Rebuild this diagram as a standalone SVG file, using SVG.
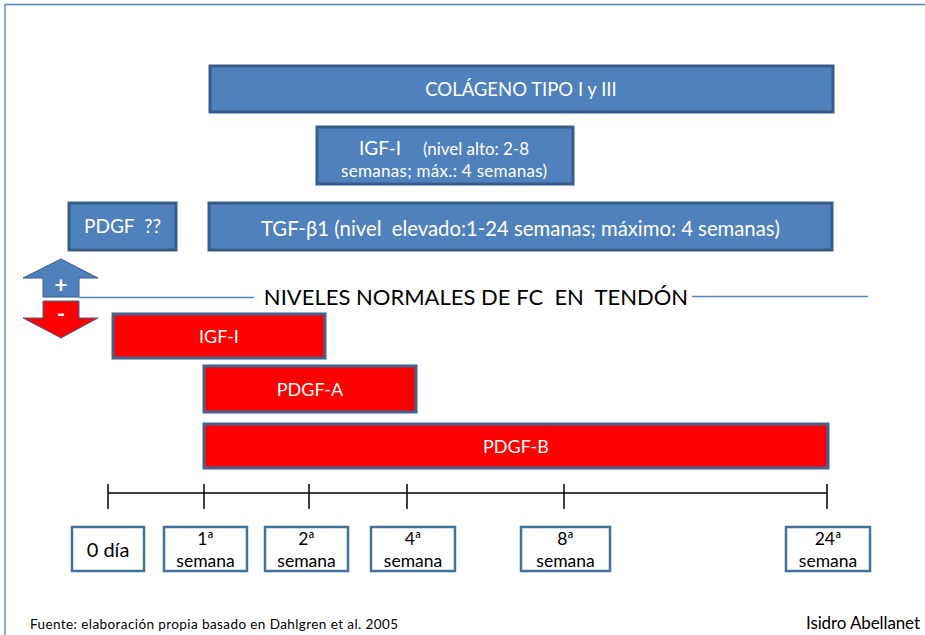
<svg xmlns="http://www.w3.org/2000/svg" width="925" height="635" viewBox="0 0 925 635">
  <defs>
    <style>
      text { font-family: Lato, "Liberation Sans", "Noto Sans", sans-serif; }
      .blue { fill: #4F81BD; stroke: #385D8A; stroke-width: 3; }
      .red { fill: #FF0000; stroke: #41638F; stroke-width: 3; }
      .lbl { fill: #FFFFFF; stroke: #41719C; stroke-width: 2.5; }
      .wt { fill: #FFFFFF; text-anchor: middle; }
      .bk { fill: #000000; text-anchor: middle; }
      .axis { stroke: #000000; stroke-width: 1.5; fill: none; }
      .norm { stroke: #4F81BD; stroke-width: 1.3; fill: none; }
      .wk { font-size: 17.5px; }
    </style>
  </defs>

  <rect width="925" height="635" fill="#FFFFFF"/>
  <!-- frame -->
  <path d="M5,635 V4.5 H925" fill="none" stroke="#4F81BD" stroke-width="1.3"/>

  <!-- increased factors -->
  <g id="colageno">
    <rect class="blue" x="210" y="66" width="623" height="46"/>
    <text class="wt" x="521" y="96" font-size="18.5">COLÁGENO TIPO I y III</text>
  </g>
  <g id="igf-alto">
    <rect class="blue" x="317" y="127" width="256" height="57"/>
    <text x="359" y="155" font-size="19" fill="#FFFFFF">IGF-I</text>
    <text x="423" y="155" font-size="17" fill="#FFFFFF" textLength="106">(nivel alto: 2-8</text>
    <text x="341" y="177" font-size="17" fill="#FFFFFF" textLength="206">semanas; máx.: 4 semanas)</text>
  </g>
  <g id="pdgf-dudoso">
    <rect class="blue" x="69" y="203" width="107" height="47"/>
    <text class="wt" x="122.5" y="233" font-size="19" xml:space="preserve">PDGF  ??</text>
  </g>
  <g id="tgf-b1">
    <rect class="blue" x="209" y="203" width="623" height="47"/>
    <text class="wt" x="520.5" y="236" font-size="20.3" xml:space="preserve">TGF-β1 (nivel  elevado:1-24 semanas; máximo: 4 semanas)</text>
  </g>

  <!-- up / down arrows -->
  <g id="flecha-mas">
    <path d="M61,259 L98,278 L79,278 L79,297 L43,297 L43,278 L23,278 Z" fill="#4F81BD" stroke="#385D8A" stroke-width="1"/>
    <text class="wt" x="61" y="292.5" font-size="22" font-weight="bold">+</text>
  </g>
  <g id="flecha-menos">
    <path d="M43,301 L79,301 L79,318 L98,318 L61,338 L23,318 L43,318 Z" fill="#FF0000" stroke="#41638F" stroke-width="1"/>
    <text class="wt" x="61" y="322" font-size="22" font-weight="bold">-</text>
  </g>

  <!-- normal level -->
  <g id="nivel-normal">
    <text class="bk" x="476" y="305" font-size="22" xml:space="preserve">NIVELES NORMALES DE FC  EN  TENDÓN</text>
  </g>

  <!-- decreased factors -->
  <g id="igf-bajo">
    <rect class="red" x="113" y="314" width="212" height="44"/>
    <text class="wt" x="219" y="343" font-size="18">IGF-I</text>
  </g>
  <g id="pdgf-a">
    <rect class="red" x="204" y="366" width="212" height="46"/>
    <text class="wt" x="310" y="396" font-size="18">PDGF-A</text>
  </g>
  <g id="pdgf-b">
    <rect class="red" x="204" y="424" width="624" height="44"/>
    <text class="wt" x="516" y="453" font-size="18">PDGF-B</text>
  </g>

  <!-- time labels -->
  <g id="t0">
    <rect class="lbl" x="72" y="527" width="72" height="44"/>
    <text class="bk" x="108" y="557" font-size="20">0 día</text>
  </g>
  <g id="t1">
    <rect class="lbl" x="164" y="527" width="83" height="44"/>
    <text class="bk wk" x="205.5" y="545">1ª</text>
    <text class="bk wk" x="205.5" y="567">semana</text>
  </g>
  <g id="t2">
    <rect class="lbl" x="265" y="527" width="83" height="44"/>
    <text class="bk wk" x="306.5" y="545">2ª</text>
    <text class="bk wk" x="306.5" y="567">semana</text>
  </g>
  <g id="t4">
    <rect class="lbl" x="371" y="527" width="84" height="44"/>
    <text class="bk wk" x="413" y="545">4ª</text>
    <text class="bk wk" x="413" y="567">semana</text>
  </g>
  <g id="t8">
    <rect class="lbl" x="521" y="527" width="89" height="44"/>
    <text class="bk wk" x="565.5" y="545">8ª</text>
    <text class="bk wk" x="565.5" y="567">semana</text>
  </g>
  <g id="t24">
    <rect class="lbl" x="786" y="527" width="84" height="44"/>
    <text class="bk wk" x="828" y="545">24ª</text>
    <text class="bk wk" x="828" y="567">semana</text>
  </g>

  <!-- connectors: normal-level line and timeline axis -->
  <g id="conectores">
    <line class="norm" x1="79" y1="297.5" x2="254" y2="297.5"/>
    <line class="norm" x1="692" y1="296.5" x2="868" y2="296.5"/>
    <path class="axis" d="M108,493 H827 M108,484 V509 M204,484 V509 M309,484 V509 M407,484 V509 M564,484 V509 M827,484 V509"/>
  </g>

  <!-- footer -->
  <text x="30" y="629" font-size="13.5" fill="#000000" textLength="368">Fuente: elaboración propia basado en Dahlgren et al. 2005</text>
  <text x="806" y="629" font-size="17" fill="#000000" textLength="114">Isidro Abellanet</text>
</svg>
